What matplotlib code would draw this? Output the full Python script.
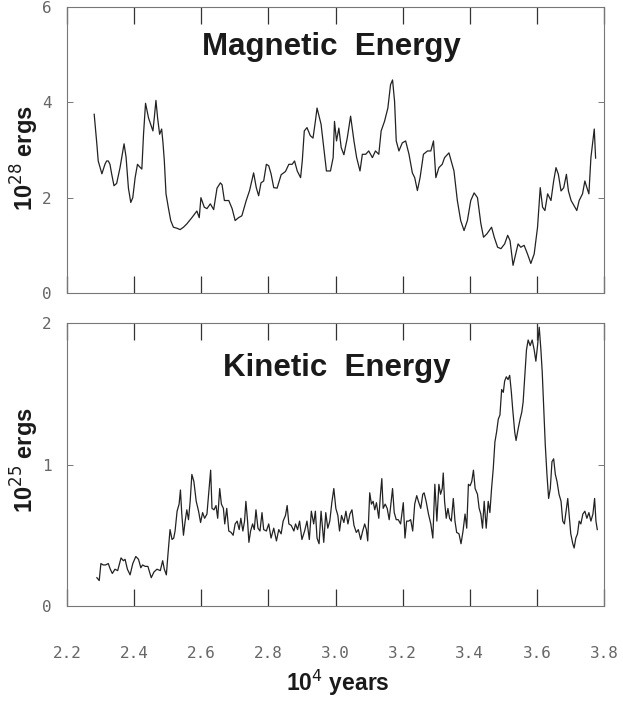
import matplotlib
matplotlib.use("Agg")
import matplotlib.pyplot as plt

# magnetic energy, 10^28 ergs vs 10^4 years
mag_t = [2.281, 2.289, 2.293, 2.304, 2.313, 2.318, 2.323, 2.328, 2.333, 2.340,
         2.348, 2.358, 2.370, 2.376, 2.383, 2.390, 2.396, 2.403, 2.410, 2.416,
         2.423, 2.428, 2.434, 2.443, 2.456, 2.460, 2.465, 2.470, 2.476, 2.482,
         2.486, 2.490, 2.495, 2.502, 2.509, 2.517, 2.527, 2.537, 2.547, 2.557,
         2.572, 2.587, 2.594, 2.599, 2.609, 2.617, 2.627, 2.637, 2.647, 2.657,
         2.662, 2.669, 2.682, 2.692, 2.701, 2.711, 2.721, 2.734, 2.744, 2.756,
         2.764, 2.771, 2.778, 2.786, 2.794, 2.801, 2.808, 2.816, 2.826, 2.838,
         2.851, 2.861, 2.871, 2.878, 2.886, 2.896, 2.901, 2.907, 2.915, 2.925,
         2.933, 2.940, 2.945, 2.957, 2.965, 2.973, 2.985, 2.993, 2.997, 3.003,
         3.010, 3.017, 3.025, 3.035, 3.045, 3.055, 3.063, 3.073, 3.080, 3.090,
         3.099, 3.110, 3.119, 3.129, 3.136, 3.146, 3.156, 3.164, 3.170, 3.176,
         3.181, 3.189, 3.199, 3.209, 3.219, 3.229, 3.236, 3.244, 3.252, 3.262,
         3.274, 3.284, 3.292, 3.299, 3.308, 3.318, 3.325, 3.338, 3.353, 3.363,
         3.373, 3.383, 3.393, 3.403, 3.413, 3.423, 3.433, 3.441, 3.451, 3.458,
         3.465, 3.473, 3.483, 3.493, 3.504, 3.513, 3.520, 3.529, 3.537, 3.544,
         3.552, 3.562, 3.572, 3.582, 3.592, 3.602, 3.610, 3.617, 3.624, 3.632,
         3.642, 3.650, 3.657, 3.664, 3.672, 3.680, 3.688, 3.694, 3.702, 3.711,
         3.719, 3.726, 3.736, 3.743, 3.749, 3.755, 3.761, 3.767, 3.771, 3.775]
mag_e = [3.75, 3.12, 2.77, 2.50, 2.70, 2.77, 2.77, 2.70, 2.50, 2.25,
         2.30, 2.63, 3.13, 2.85, 2.20, 1.90, 2.00, 2.42, 2.70, 2.65,
         2.60, 3.33, 3.98, 3.67, 3.40, 3.67, 4.04, 3.67, 3.33, 3.44,
         3.15, 2.77, 2.08, 1.79, 1.52, 1.38, 1.36, 1.33, 1.38, 1.45,
         1.58, 1.72, 1.58, 2.00, 1.80, 1.77, 1.87, 1.75, 2.20, 2.31,
         2.27, 1.94, 1.94, 1.77, 1.52, 1.58, 1.62, 1.94, 2.15, 2.52,
         2.21, 2.04, 2.31, 2.35, 2.70, 2.67, 2.50, 2.21, 2.20, 2.48,
         2.55, 2.70, 2.70, 2.77, 2.56, 2.42, 2.77, 3.40, 3.47, 3.30,
         3.25, 3.60, 3.88, 3.54, 3.04, 2.56, 2.56, 2.84, 3.60, 3.19,
         3.46, 3.05, 2.90, 3.25, 3.71, 3.19, 2.84, 2.56, 2.91, 2.91,
         2.98, 2.84, 2.98, 2.91, 3.40, 3.60, 3.88, 4.37, 4.47, 4.02,
         3.19, 2.98, 3.15, 3.19, 2.91, 2.52, 2.42, 2.15, 2.42, 2.91,
         2.98, 2.98, 3.19, 2.42, 2.63, 2.70, 2.84, 2.94, 2.56, 1.94,
         1.52, 1.31, 1.52, 1.94, 2.10, 2.00, 1.46, 1.17, 1.24, 1.31,
         1.38, 1.17, 0.96, 0.93, 1.03, 1.21, 1.10, 0.58, 0.82, 1.03,
         0.96, 1.00, 0.82, 0.62, 0.82, 1.38, 2.21, 1.80, 1.73, 2.08,
         1.94, 2.35, 2.63, 2.49, 2.14, 2.21, 2.49, 2.14, 1.94, 1.83,
         1.73, 1.94, 2.08, 2.35, 2.21, 2.08, 2.84, 3.19, 3.44, 2.83]

# kinetic energy, 10^25 ergs vs 10^4 years
kin_t = [2.289, 2.296, 2.301, 2.308, 2.315, 2.323, 2.329, 2.335, 2.343, 2.351,
         2.361, 2.368, 2.373, 2.380, 2.388, 2.396, 2.405, 2.413, 2.420, 2.425,
         2.433, 2.441, 2.451, 2.459, 2.468, 2.478, 2.485, 2.490, 2.496, 2.501,
         2.507, 2.513, 2.518, 2.522, 2.528, 2.534, 2.538, 2.542, 2.547, 2.552,
         2.557, 2.562, 2.567, 2.572, 2.578, 2.585, 2.592, 2.598, 2.604, 2.610,
         2.617, 2.622, 2.628, 2.632, 2.638, 2.644, 2.649, 2.655, 2.660, 2.666,
         2.670, 2.676, 2.682, 2.689, 2.695, 2.701, 2.707, 2.713, 2.718, 2.724,
         2.729, 2.733, 2.738, 2.742, 2.747, 2.753, 2.758, 2.763, 2.769, 2.775,
         2.781, 2.786, 2.794, 2.801, 2.808, 2.816, 2.824, 2.831, 2.838, 2.844,
         2.851, 2.856, 2.861, 2.868, 2.876, 2.881, 2.887, 2.893, 2.900, 2.908,
         2.915, 2.922, 2.928, 2.935, 2.940, 2.945, 2.951, 2.957, 2.965, 2.971,
         2.977, 2.983, 2.989, 2.995, 3.001, 3.007, 3.012, 3.018, 3.025, 3.031,
         3.037, 3.043, 3.049, 3.055, 3.062, 3.068, 3.075, 3.081, 3.087, 3.092,
         3.096, 3.102, 3.107, 3.112, 3.117, 3.122, 3.129, 3.134, 3.138, 3.142,
         3.148, 3.154, 3.160, 3.166, 3.170, 3.175, 3.181, 3.187, 3.194, 3.202,
         3.207, 3.212, 3.218, 3.224, 3.230, 3.236, 3.242, 3.247, 3.254, 3.260,
         3.264, 3.270, 3.277, 3.284, 3.290, 3.296, 3.302, 3.308, 3.313, 3.318,
         3.321, 3.325, 3.330, 3.335, 3.340, 3.345, 3.351, 3.356, 3.361, 3.368,
         3.374, 3.380, 3.386, 3.391, 3.396, 3.401, 3.406, 3.411, 3.416, 3.423,
         3.428, 3.433, 3.438, 3.443, 3.449, 3.455, 3.460, 3.465, 3.470, 3.475,
         3.480, 3.485, 3.490, 3.495, 3.500, 3.504, 3.509, 3.514, 3.519, 3.524,
         3.528, 3.534, 3.538, 3.544, 3.550, 3.555, 3.559, 3.564, 3.569, 3.574,
         3.580, 3.586, 3.592, 3.597, 3.602, 3.607, 3.612, 3.616, 3.620, 3.625,
         3.630, 3.635, 3.640, 3.645, 3.650, 3.655, 3.660, 3.666, 3.672, 3.677,
         3.682, 3.687, 3.692, 3.697, 3.701, 3.707, 3.711, 3.716, 3.721, 3.726,
         3.731, 3.737, 3.743, 3.749, 3.755, 3.761, 3.767, 3.772, 3.776, 3.780]
kin_e = [0.20, 0.18, 0.30, 0.29, 0.29, 0.30, 0.26, 0.23, 0.26, 0.25,
         0.34, 0.32, 0.33, 0.26, 0.22, 0.30, 0.35, 0.33, 0.27, 0.29,
         0.28, 0.28, 0.20, 0.24, 0.26, 0.25, 0.32, 0.26, 0.22, 0.37,
         0.54, 0.47, 0.48, 0.53, 0.67, 0.72, 0.82, 0.65, 0.50, 0.60,
         0.68, 0.61, 0.74, 0.93, 0.88, 0.74, 0.67, 0.59, 0.66, 0.62,
         0.65, 0.79, 0.96, 0.69, 0.68, 0.71, 0.62, 0.83, 0.72, 0.69,
         0.58, 0.69, 0.53, 0.52, 0.50, 0.58, 0.60, 0.54, 0.62, 0.53,
         0.60, 0.74, 0.60, 0.45, 0.53, 0.58, 0.54, 0.68, 0.55, 0.53,
         0.66, 0.54, 0.53, 0.58, 0.48, 0.55, 0.46, 0.54, 0.51, 0.60,
         0.64, 0.71, 0.58, 0.57, 0.53, 0.58, 0.54, 0.60, 0.47, 0.53,
         0.60, 0.47, 0.67, 0.58, 0.67, 0.48, 0.44, 0.67, 0.45, 0.66,
         0.55, 0.60, 0.73, 0.83, 0.69, 0.64, 0.53, 0.64, 0.59, 0.67,
         0.58, 0.65, 0.68, 0.57, 0.52, 0.54, 0.47, 0.53, 0.58, 0.54,
         0.46, 0.80, 0.72, 0.74, 0.68, 0.73, 0.62, 0.79, 0.90, 0.69,
         0.72, 0.69, 0.61, 0.74, 0.83, 0.66, 0.61, 0.61, 0.58, 0.73,
         0.48, 0.60, 0.60, 0.61, 0.53, 0.72, 0.78, 0.74, 0.69, 0.79,
         0.80, 0.74, 0.65, 0.58, 0.48, 0.86, 0.60, 0.86, 0.79, 0.83,
         0.94, 0.74, 0.62, 0.69, 0.62, 0.60, 0.76, 0.60, 0.52, 0.51,
         0.44, 0.53, 0.65, 0.55, 0.86, 0.85, 0.88, 0.96, 0.83, 0.79,
         0.69, 0.65, 0.55, 0.74, 0.55, 0.74, 0.66, 0.83, 0.97, 1.16,
         1.23, 1.32, 1.35, 1.53, 1.51, 1.59, 1.62, 1.60, 1.63, 1.51,
         1.39, 1.23, 1.17, 1.25, 1.32, 1.37, 1.44, 1.63, 1.81, 1.88,
         1.84, 1.88, 1.81, 1.73, 1.84, 1.97, 1.81, 1.65, 1.42, 1.14,
         0.93, 0.76, 0.83, 1.02, 1.04, 0.93, 0.88, 0.79, 0.74, 0.60,
         0.58, 0.67, 0.76, 0.62, 0.51, 0.44, 0.41, 0.48, 0.51, 0.60,
         0.58, 0.65, 0.67, 0.62, 0.66, 0.60, 0.65, 0.76, 0.60, 0.54]

x_ticks = [2.2, 2.4, 2.6, 2.8, 3.0, 3.2, 3.4, 3.6, 3.8]
x_labels = ["2.2", "2.4", "2.6", "2.8", "3.0", "3.2", "3.4", "3.6", "3.8"]

W, H = 623, 701
fig = plt.figure(figsize=(W / 100, H / 100), dpi=100)
ax1 = fig.add_axes([67 / W, 1 - 293 / H, 537 / W, 286 / H])
ax2 = fig.add_axes([67 / W, 1 - 606 / H, 537 / W, 283 / H])

bold = dict(family="Liberation Sans", weight="bold", color="#1a1a1a")
tick_font = dict(family="DejaVu Sans Mono", size=11.5, color="#666666")


def style(ax, ymax, yticks):
    ax.set_xlim(2.2, 3.8)
    ax.set_ylim(0, ymax)
    ax.set_xticks(x_ticks)
    ax.set_yticks(yticks)
    for s in ax.spines.values():
        s.set_color("#777777")
        s.set_linewidth(0.8)
    ax.tick_params(axis="x", direction="in", length=12, width=0.9,
                   color="#333333", top=True, bottom=True)
    ax.tick_params(axis="y", direction="in", length=4, width=0.7,
                   color="#777777", left=True, right=True, pad=11)
    ax.set_yticklabels([str(v) for v in yticks], **tick_font)


ax1.plot(mag_t, mag_e, color="#222222", lw=0.9)
style(ax1, 6, [0, 2, 4, 6])
ax1.set_xticklabels([])
ax1.text(0.493, 0.86, "Magnetic  Energy", transform=ax1.transAxes,
         ha="center", va="center", fontsize=22.5, **bold)

ax2.plot(kin_t, kin_e, color="#222222", lw=0.9)
style(ax2, 2.0, [0, 1, 2])
ax2.set_xticklabels(x_labels, **tick_font)
ax2.tick_params(axis="x", pad=29)
ax2.text(0.503, 0.84, "Kinetic  Energy", transform=ax2.transAxes,
         ha="center", va="center", fontsize=22.5, **bold)

# axis titles placed in figure pixels
fig.text(25 / W, 1 - 158 / H, "10$^{28}$ ergs", rotation=90,
         ha="center", va="center", fontsize=17, **bold)
fig.text(25 / W, 1 - 460 / H, "10$^{25}$ ergs", rotation=90,
         ha="center", va="center", fontsize=17, **bold)
fig.text(338 / W, 1 - 683 / H, "10$^4$ years",
         ha="center", va="center", fontsize=16.5, **bold)

fig.savefig("out.png", dpi=100)
